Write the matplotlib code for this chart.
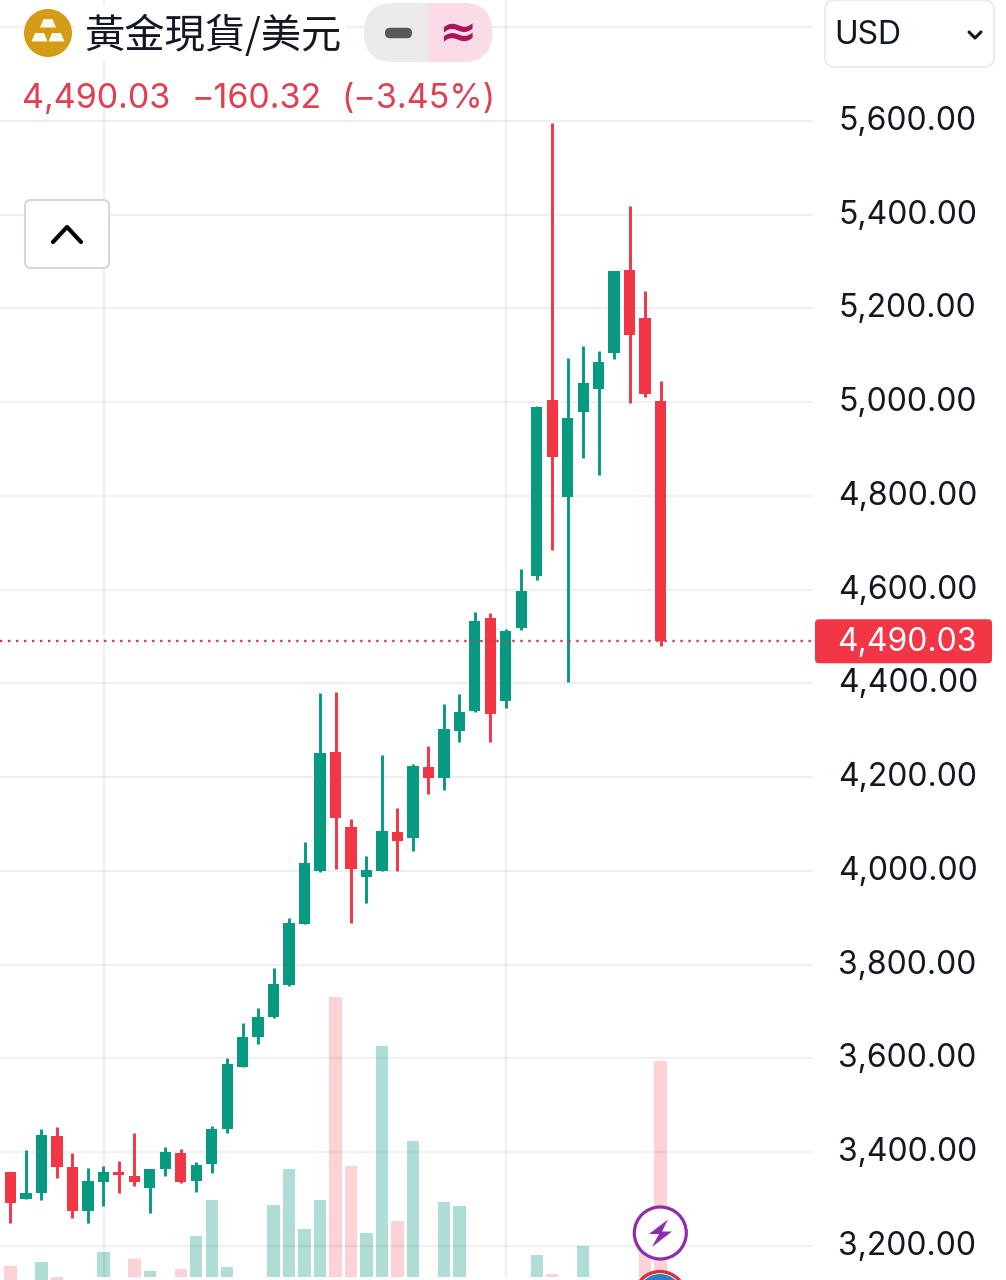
import matplotlib
matplotlib.use('Agg')
import matplotlib.pyplot as plt
from matplotlib.colors import to_rgba
from matplotlib.patches import Circle, FancyBboxPatch, Polygon, Rectangle
from matplotlib.transforms import ScaledTranslation
import numpy as np

plt.rcParams['font.family'] = ['Inter', 'DejaVu Sans']

# candles, oldest first
opens = [3358, 3300, 3314, 3435, 3369, 3275, 3336, 3358, 3349, 3323, 3364, 3398, 3338, 3375,
         3449, 3581, 3646, 3688, 3757, 3887, 4001, 4254, 4094, 3988, 4000, 4084, 4070, 4222,
         4198, 4299, 4341, 4539, 4363, 4518, 4629, 5005, 4797, 4980, 5028, 5106, 5282, 5179, 5003]
highs = [3358, 3405, 3449, 3453, 3399, 3367, 3371, 3381, 3442, 3365, 3411, 3407, 3380, 3456,
         3601, 3676, 3708, 3793, 3900, 4061, 4380, 4382, 4110, 4033, 4247, 4134, 4228, 4267,
         4356, 4377, 4552, 4550, 4517, 4644, 4991, 5596, 5094, 5120, 5110, 5281, 5419, 5238, 5046]
lows = [3249, 3300, 3298, 3344, 3259, 3250, 3286, 3313, 3329, 3271, 3349, 3334, 3315, 3355,
        3442, 3581, 3630, 3687, 3755, 3886, 3998, 4005, 3888, 3931, 4000, 4001, 4043, 4164,
        4173, 4275, 4339, 4276, 4347, 4514, 4621, 4685, 4403, 4880, 4845, 5092, 4998, 5011, 4481]
closes = [3291, 3312, 3437, 3369, 3275, 3339, 3357, 3351, 3337, 3365, 3400, 3337, 3373, 3449,
          3588, 3646, 3688, 3759, 3888, 4018, 4252, 4112, 4004, 4002, 4086, 4064, 4224, 4198,
          4302, 4340, 4533, 4334, 4511, 4598, 4989, 4883, 4966, 5042, 5085, 5279, 5143, 5018, 4490.03]
volumes = [14, 0, 18, 3, 0, 0, 28, 0, 21, 9, 0, 11, 44, 80, 13, 0, 0, 75, 111, 51, 80, 283,
           114, 47, 234, 59, 139, 0, 78, 74, 0, 0, 0, 0, 25, 6, 0, 34, 0, 0, 0, 30, 219]

price_ticks = [3200, 3400, 3600, 3800, 4000, 4200, 4400, 4600, 4800, 5000, 5200, 5400, 5600, 5800]
tick_labels = ['3,200.00', '3,400.00', '3,600.00', '3,800.00', '4,000.00', '4,200.00', '4,400.00',
               '4,600.00', '4,800.00', '5,000.00', '5,200.00', '5,400.00', '5,600.00', '']
session_lines = [6.03, 32]

title = '黃金現貨/美元'
last_price = '4,490.03'
change = '−160.32'
change_pct = '(−3.45%)'

GREEN = '#089981'
RED = '#f23645'
INK = '#131722'
W, H = 1006, 1280
PLOT_W = 813

fig = plt.figure(figsize=(W / 100, H / 100), dpi=100, facecolor='white')

x = np.arange(len(closes))
o, c, h, l = map(np.array, (opens, closes, highs, lows))
up = c >= o
colors = np.where(up, GREEN, RED)
vol_colors = [to_rgba(GREEN, 0.32) if u else to_rgba(RED, 0.22) for u in up]
xlim = (-0.678, 51.85)

# volume sits under the price pane
vol_ax = fig.add_axes([0, 0, PLOT_W / W, 1], zorder=1)
vol_ax.bar(x, volumes, width=0.8, color=vol_colors, linewidth=0)
vol_ax.set_xlim(xlim)
vol_ax.set_ylim(0, H)
vol_ax.axis('off')

ax = fig.add_axes([0, 0, PLOT_W / W, 1], zorder=2)
ax.patch.set_visible(False)
ax.vlines(x, l, h, color=colors, linewidth=2.1, zorder=3)
ax.bar(x, np.abs(c - o), bottom=np.minimum(o, c), width=0.73, color=colors, linewidth=0, zorder=4)
ax.axhline(closes[-1], color='#d93a4a', linewidth=1.7, linestyle=(0, (1, 2.39)), zorder=5)

ax.set_xlim(xlim)
ax.set_ylim(3127.4, 5858.1)
ax.set_xticks(session_lines)
ax.set_yticks(price_ticks)
ax.set_yticklabels(tick_labels)
ax.yaxis.tick_right()
ax.tick_params(axis='x', length=0, labelbottom=False)
ax.tick_params(axis='y', length=0, pad=18, labelsize=23, labelcolor=INK)
ax.grid(True, color='black', alpha=0.06, linewidth=1.6)
ax.set_axisbelow(True)
for s in ax.spines.values():
    s.set_visible(False)

# labels sit a touch above their grid line
up_shift = ScaledTranslation(0, 3 / 100, fig.dpi_scale_trans)
for t in ax.get_yticklabels():
    t.set_transform(t.get_transform() + up_shift)

# header, buttons and badges, in pixels from the top left
ui = fig.add_axes([0, 0, 1, 1], zorder=3)
ui.set_xlim(0, W)
ui.set_ylim(H, 0)
ui.axis('off')
ui.patch.set_visible(False)

ui.add_patch(Rectangle((64, 1277), 760, 3, color='white', linewidth=0))
ui.add_patch(Rectangle((76, 5), 270, 55, color='white', linewidth=0))

# gold coin
ui.add_patch(Circle((48, 33), 24, color='#d49b16', linewidth=0))
for px, py in [(48, 19), (39.5, 33), (56.5, 33)]:
    ui.add_patch(Polygon([(px - 4.5, py), (px + 4.5, py), (px + 8, py + 8.5), (px - 8, py + 8.5)],
                         color='#fffaf0', linewidth=0))
ui.text(84, 36, title, fontsize=29, color=INK, va='center', ha='left',
        family=['Noto Sans CJK TC', 'DejaVu Sans'])

# status pill
ui.add_patch(FancyBboxPatch((364 + 29, 3 + 29), 128 - 58, 1, boxstyle='round,pad=29', color='#ebebeb', linewidth=0))
pink = FancyBboxPatch((364 + 29, 3 + 29), 128 - 58, 1, boxstyle='round,pad=29', color='#fadbe7', linewidth=0)
ui.add_patch(pink)
pink.set_clip_path(Rectangle((428, 0), 70, 70, transform=ui.transData))
ui.add_patch(FancyBboxPatch((390, 32.75), 17, 0.5, boxstyle='round,pad=5', color='#57585a', linewidth=0))
ui.text(457.5, 35, '≈', fontsize=33, color='#a8175c', ha='center', va='center', fontweight='bold',
        family='DejaVu Sans')

# quote line
for tx, s in [(22, last_price), (192, change), (341, change_pct)]:
    ui.text(tx, 99, s, fontsize=24.5, color='#e0404f', ha='left', va='center')

# collapse button
ui.add_patch(FancyBboxPatch((31, 206), 72, 56, boxstyle='round,pad=6', facecolor='white',
                            edgecolor='#d6d7da', linewidth=1.5))
ui.plot([53, 67, 81], [242, 227, 242], color='black', linewidth=3, solid_capstyle='round',
        solid_joinstyle='round')

# currency selector
ui.add_patch(FancyBboxPatch((835, 10), 149, 47, boxstyle='round,pad=10', facecolor='white',
                            edgecolor='#ececee', linewidth=1.5, clip_on=True))
ui.text(834, 36, 'USD', fontsize=23, color=INK, ha='left', va='center')
ui.plot([969, 975, 981], [32, 38, 32], color=INK, linewidth=2.2, solid_capstyle='round')

# last price tag
tag_y = H - ax.transData.transform((0, closes[-1]))[1]
ui.add_patch(FancyBboxPatch((819, tag_y - 18), 169, 41 - 5, boxstyle='round,pad=4', color=RED, linewidth=0))
ui.text(907, tag_y + 1, last_price, fontsize=23, color='white', ha='center', va='center')

# event badges
ui.add_patch(Circle((660, 1297), 25.5, facecolor='white', edgecolor='#d8303c', linewidth=2.4))
ui.add_patch(Circle((660, 1297), 23, color='#2d7fc4', linewidth=0))
ui.add_patch(Circle((660.3, 1233), 26, facecolor='white', edgecolor='#8e2bb0', linewidth=2.3))
ui.add_patch(Polygon([(668, 1219.5), (649, 1234), (659, 1234), (652, 1247), (672, 1231.5), (662, 1231.5)],
                     color='#8e2bb0', linewidth=0))

fig.savefig('out.png', dpi=100)
